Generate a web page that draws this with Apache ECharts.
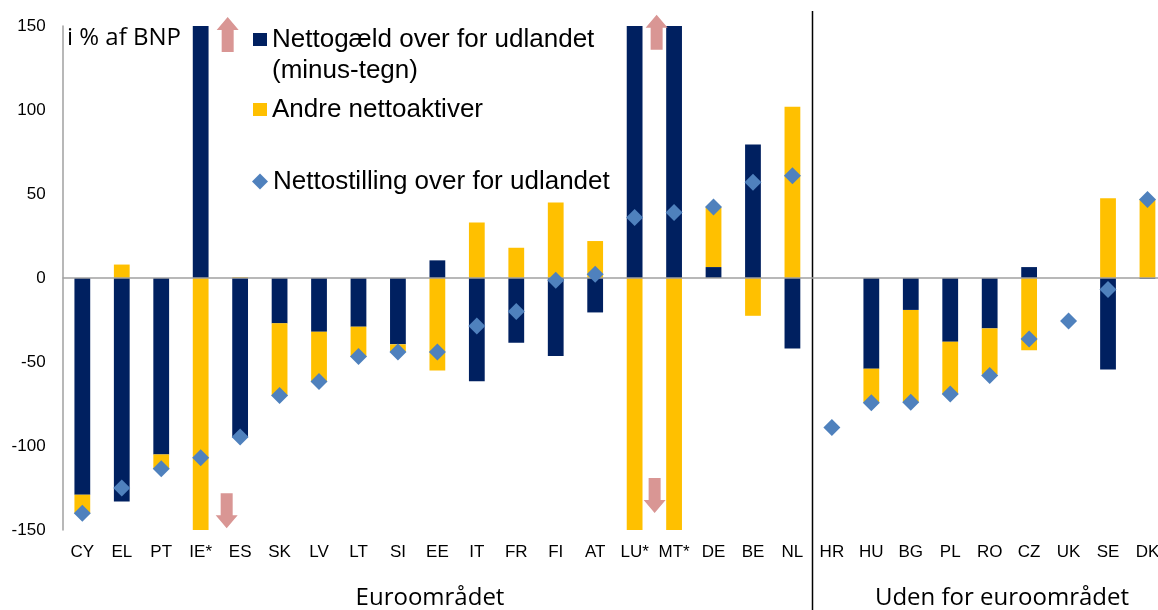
<!DOCTYPE html>
<html>
<head>
<meta charset="utf-8">
<script src="https://cdn.jsdelivr.net/npm/echarts@6/dist/echarts.min.js"></script>
<style>
  html, body { margin: 0; padding: 0; background: #fff; }
  #main { width: 1158px; height: 610px; }
</style>
</head>
<body>
<div id="main"></div>
<script>
// lande, euroområdet først (19), derefter uden for (9)
var countries = ['CY', 'EL', 'PT', 'IE*', 'ES', 'SK', 'LV', 'LT', 'SI', 'EE', 'IT', 'FR', 'FI', 'AT', 'LU*', 'MT*', 'DE', 'BE', 'NL',
                 'HR', 'HU', 'BG', 'PL', 'RO', 'CZ', 'UK', 'SE', 'DK'];
// Nettogæld over for udlandet (minus-tegn), pct. af BNP
var netDebt = [-129, -133, -105, 180, -95, -27, -32, -29, -39.5, 10.5, -61.5, -38.5, -46.5, -20.5, 300, 300, 6.5, 79.5, -42,
               null, -54, -19, -38, -30, 6.5, null, -54.5, -0.5];
// Andre nettoaktiver
var otherAssets = [-11, 8, -8.5, -287, 0.5, -43, -30, -18, -4.5, -55, 33, 18, 45, 22, -264, -261, 35.5, -22.5, 102,
                   null, -20, -55, -31, -27.5, -43, null, 47.5, 47];
// Nettostilling over for udlandet
var netPosition = [-140, -125, -113.5, -107, -94.7, -70, -61.6, -46.7, -44, -44, -28.5, -20, -1.3, 2.2, 36, 39, 42.3, 57, 60.8,
                   -89, -74.2, -74, -69, -58, -36.3, -25.6, -6.8, 46.7];
var yTicks = [150, 100, 50, 0, -50, -100, -150];
var euroCount = 19;

var NAVY = '#002060', GOLD = '#FFC000', BLUE = '#4F81BD', PINK = '#D99694';
var upArrow = 'path://M11,0 L22,13 L17,13 L17,35 L5,35 L5,13 L0,13 Z';
var downArrow = 'path://M5,0 L17,0 L17,22 L22,22 L11,35 L0,22 L5,22 Z';
var sansFont = '"Liberation Sans", Arial, sans-serif';

var chart = echarts.init(document.getElementById('main'));

var legendBase = {
    orient: 'vertical',
    padding: 0,
    itemGap: 0,
    textStyle: { fontFamily: sansFont, fontSize: 26, color: '#000', lineHeight: 31 }
};

chart.setOption({
    animation: false,
    title: {
        text: 'i % af BNP',
        left: 67, top: 25, padding: 0,
        textStyle: { fontFamily: '"Open Sans", sans-serif', fontSize: 24, fontWeight: 'normal', color: '#000', lineHeight: 26 }
    },
    legend: [
        Object.assign({}, legendBase, {
            left: 253, top: -7,
            itemWidth: 14, itemHeight: 13,
            data: [{ name: 'Nettogæld over for udlandet (minus-tegn)', icon: 'rect' }],
            // tom første linje, så ikonet står ud for første tekstlinje
            formatter: function () { return ' \nNettogæld over for udlandet\n(minus-tegn)'; }
        }),
        Object.assign({}, legendBase, {
            left: 253, top: 94,
            itemWidth: 14, itemHeight: 13,
            data: [{ name: 'Andre nettoaktiver', icon: 'rect' }]
        }),
        Object.assign({}, legendBase, {
            left: 252, top: 166,
            itemWidth: 16, itemHeight: 16,
            data: [{ name: 'Nettostilling over for udlandet', icon: 'diamond' }]
        })
    ],
    grid: { left: 62.6, top: 26, width: 1104.6, bottom: 80, containLabel: false, outerBoundsMode: 'none' },
    xAxis: {
        type: 'category',
        data: countries,
        axisLine: { show: false, onZero: false },
        axisTick: { show: false },
        axisLabel: { interval: 0, margin: 14, fontFamily: sansFont, fontSize: 17, color: '#000' }
    },
    yAxis: {
        type: 'value',
        min: -150, max: 150, interval: 50,
        axisLine: { show: true, lineStyle: { color: '#A0A0A0', width: 1.5 } },
        axisTick: { show: false },
        splitLine: { show: false },
        axisLabel: {
            margin: 17, fontFamily: sansFont, fontSize: 17, color: '#000',
            customValues: yTicks
        }
    },
    series: [
        {
            name: 'Nettogæld over for udlandet (minus-tegn)',
            type: 'bar',
            stack: 'total',
            barWidth: '40%',
            itemStyle: { color: NAVY },
            data: netDebt,
            markPoint: {
                silent: true,
                symbolSize: [22, 35],
                itemStyle: { color: PINK },
                label: { show: false },
                data: [
                    { coord: ['IE*', 145], symbol: upArrow, symbolOffset: [27, 0] },
                    { coord: ['IE*', -138.5], symbol: downArrow, symbolOffset: [26, 0] },
                    { coord: ['LU*', 146.3], symbol: upArrow, symbolOffset: [22, 0] },
                    { coord: ['LU*', -129.5], symbol: downArrow, symbolOffset: [20, 0] }
                ]
            }
        },
        {
            name: 'Andre nettoaktiver',
            type: 'bar',
            stack: 'total',
            barWidth: '40%',
            itemStyle: { color: GOLD },
            data: otherAssets,
            markLine: {
                silent: true,
                symbol: 'none',
                label: { show: false },
                lineStyle: { color: '#A0A0A0', width: 1.5, type: 'solid' },
                data: [{ yAxis: 0 }]
            }
        },
        {
            name: 'Nettostilling over for udlandet',
            type: 'scatter',
            symbol: 'diamond',
            symbolSize: 17,
            z: 10,
            itemStyle: { color: BLUE, opacity: 1 },
            data: netPosition
        }
    ]
});

// skillelinje og gruppetekster, placeret ud fra kategoriaksen
var band = chart.convertToPixel({ xAxisIndex: 0 }, countries[1]) - chart.convertToPixel({ xAxisIndex: 0 }, countries[0]);
var splitX = Math.round(chart.convertToPixel({ xAxisIndex: 0 }, countries[euroCount]) - band / 2) + 0.5;
chart.setOption({
    graphic: [
        { type: 'line', silent: true, shape: { x1: splitX, y1: 11, x2: splitX, y2: 610 },
          style: { stroke: '#000', lineWidth: 1.5 } },
        { type: 'text', silent: true, x: 430, y: 598,
          style: { text: 'Euroområdet', font: '24px "Open Sans", sans-serif', fill: '#000', align: 'center', verticalAlign: 'middle' } },
        { type: 'text', silent: true, x: 1002, y: 598,
          style: { text: 'Uden for euroområdet', font: '24px "Open Sans", sans-serif', fill: '#000', align: 'center', verticalAlign: 'middle' } }
    ]
});
</script>
</body>
</html>
